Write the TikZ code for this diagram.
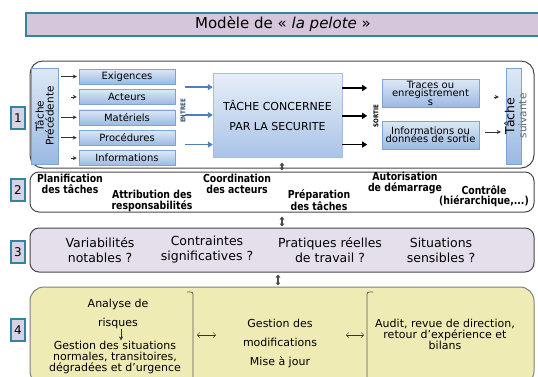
\documentclass[tikz,border=0pt]{standalone}
\usepackage{fontspec}
\setmainfont{DejaVu Sans}
\newfontfamily\narrowfont[FakeStretch=0.85]{DejaVu Sans}
\usetikzlibrary{positioning,arrows.meta,calc}
\definecolor{tealline}{HTML}{31859C}
\definecolor{titlefill}{HTML}{D6C6DC}
\definecolor{numfill}{HTML}{D9D1E6}
\definecolor{boxline}{HTML}{7EA2D4}
\definecolor{boxtop}{HTML}{DDE8F6}
\definecolor{boxbottom}{HTML}{9BB9E2}
\definecolor{arrowblue}{HTML}{4F7FBE}
\definecolor{askfill}{HTML}{E5DFEC}
\definecolor{planfill}{HTML}{EEEBB5}
\tikzset{
    title-bar/.style = {draw=tealline, line width=2pt, fill=titlefill, minimum width=514pt, minimum height=23pt, font=\fontsize{15}{15}\selectfont},
    num-box/.style = {draw=tealline, line width=1.6pt, fill=numfill, minimum width=14pt, minimum height=22pt, inner sep=0pt, font=\fontsize{12}{12}\selectfont},
    row-frame/.style = {draw=black!72, line width=1pt, rounded corners=9pt, minimum width=504pt, inner sep=0pt},
    blue-box/.style = {draw=boxline, top color=boxtop, bottom color=boxbottom, minimum width=96pt, minimum height=15pt, inner sep=0pt, font=\fontsize{10}{10}\selectfont},
    out-box/.style = {blue-box, minimum width=97pt, minimum height=28pt, align=center, font=\fontsize{10}{8.5}\selectfont},
    side-box/.style = {draw=boxline, top color=boxtop, bottom color=boxbottom, minimum height=96pt, inner sep=0pt},
    side-text/.style = {rotate=90, align=center, inner sep=0pt},
    center-box/.style = {draw=boxline!70, top color=boxtop!70!white, bottom color=boxbottom!85!white, minimum width=129pt, minimum height=84pt, align=center, font=\fontsize{11}{20}\selectfont},
    tag-text/.style = {rotate=90, inner sep=0pt, font=\narrowfont\bfseries\fontsize{6.5}{6.5}\selectfont},
    plan-text/.style = {align=center, inner sep=0pt, font=\narrowfont\bfseries\fontsize{11}{10.5}\selectfont},
    ask-text/.style = {align=center, inner sep=0pt, font=\fontsize{12.5}{15}\selectfont},
    manage-text/.style = {align=center, inner sep=0pt, font=\fontsize{11}{11}\selectfont},
    in-arrow/.style = {draw=arrowblue, line width=1.4pt, -{Triangle[length=5pt,width=6pt]}},
    out-arrow/.style = {draw=black, line width=1.8pt, -{Triangle[length=5pt,width=6pt]}},
    feed-arrow/.style = {draw=black!80, -{Stealth[length=4pt,width=4pt]}},
    link-arrow/.style = {draw=black!70, line width=1.2pt, {Triangle[length=3pt,width=4.5pt]}-{Triangle[length=3pt,width=4.5pt]}},
    pair-arrow/.style = {draw=black!80, line width=0.5pt, {Straight Barb[length=2.5pt]}-{Straight Barb[length=2.5pt]}},
    sep-line/.style = {draw=black!65, line width=0.8pt, rounded corners=2pt},
}
\begin{document}
\begin{tikzpicture}[x=1pt, y=-1pt]
\useasboundingbox (0,0) rectangle (538,376);
\clip (0,0) rectangle (538,376);
\node[title-bar] (title) at (283,24) {Modèle de « \textit{la pelote} »};

\node[row-frame, minimum height=107pt, rounded corners=13pt] (row1) at (282,114.5) {};
\node[row-frame, minimum height=40pt] (row2) at (282,192) {};
\node[row-frame, minimum height=44pt, fill=askfill] (row3) at (282,250) {};
\node[row-frame, minimum height=98pt, fill=planfill, draw=black!50, rounded corners=14pt] (row4) at (282,336) {};
\foreach \n/\y in {1/118, 2/190, 3/252, 4/330}
    \node[num-box] (num\n) at (18,\y) {\n};

\node[side-box, minimum width=27pt] (tp) at (44.5,116) {};
\node[side-text, font=\fontsize{10.5}{10}\selectfont] (tp-text) at (tp) {Tâche\\Précédente};
\node[blue-box] (exig) at (127,76.5) {Exigences};
\node[blue-box, below=5pt of exig] (act) {Acteurs};
\node[blue-box, below=5pt of act] (mat) {Matériels};
\node[blue-box, below=5pt of mat] (proc) {Procédures};
\node[blue-box, below=5pt of proc] (info) {Informations};
\foreach \b/\w/\s in {exig/0.6pt/3pt, act/0.5pt/13pt, mat/1.1pt/3pt, proc/1.5pt/3pt, info/0.5pt/13pt}
    \draw[feed-arrow, line width=\w] ([xshift=\s]tp.east |- \b.west) -- ([xshift=-2pt]\b.west);

\node[tag-text, text=arrowblue!60!black] (entree) at (183,111) {ENTREE};
\node[center-box] (task) at (277.5,115) {TÂCHE CONCERNEE\\PAR LA SECURITE};
\foreach \f in {0.17,0.5,0.85}
    \draw[in-arrow] ($(task.north west)!\f!(task.south west)+(-28,0)$) -- ($(task.north west)!\f!(task.south west)$);
\foreach \f in {0.18,0.51,0.85}
    \draw[out-arrow] ($(task.north east)!\f!(task.south east)$) -- ++(25,0);
\node[tag-text] (sortie) at (376,116) {SORTIE};
\node[out-box] (traces) at (430.5,93) {Traces ou\\enregistrement\\s};
\node[out-box] (outinfo) at (430.5,135) {Informations ou\\données de sortie};
\node[side-box, minimum width=15pt] (ts) at (513.5,116) {};
\node[side-text] (ts-text) at ([xshift=2pt]ts.center) {{\fontsize{12.5}{12}\selectfont Tâche}\\{\fontsize{10.5}{10}\selectfont\color{black!60}suivante}};
\draw[feed-arrow, line width=0.6pt] ([xshift=15pt,yshift=-4pt]traces.east) -- ([xshift=-7pt,yshift=-4pt]ts.west |- traces.east);
\draw[feed-arrow, line width=0.6pt] ([xshift=6pt,yshift=3pt]outinfo.east) -- ([xshift=-5pt,yshift=3pt]ts.west |- outinfo.east);

\node[plan-text] (plan) at (70,184) {Planification\\des tâches};
\node[plan-text] (assign) at (152,201) {Attribution des\\responsabilités};
\node[plan-text] (coord) at (237,184) {Coordination\\des acteurs};
\node[plan-text] (prep) at (319,200) {Préparation\\des tâches};
\node[plan-text] (start) at (405,183) {Autorisation\\de démarrage};
\node[plan-text] (check) at (484,196) {Contrôle\\(hiérarchique,...)};

\node[ask-text] (vary) at (100,250) {Variabilités\\notables ?};
\node[ask-text] (limit) at (207,250) {Contraintes\\significatives ?};
\node[ask-text] (real) at (330,250) {Pratiques réelles\\de travail ?};
\node[ask-text] (sensit) at (441,250) {Situations\\sensibles ?};

\node[manage-text, font=\fontsize{11}{19}\selectfont] (risk) at (118,313.5) {Analyse de\\risques};
\node[manage-text] (situ) at (115,357) {Gestion des situations\\normales, transitoires,\\dégradées et d'urgence};
\draw[feed-arrow, line width=0.5pt] ([xshift=3pt]risk.south) -- ([xshift=6pt]situ.north);
\node[manage-text, font=\fontsize{11}{19}\selectfont] (modif) at (280,343) {Gestion des\\modifications\\Mise à jour};
\node[manage-text] (audit) at (445,334) {Audit, revue de direction,\\retour d'expérience et\\bilans};
\coordinate (sep-left) at (193,292);
\coordinate (sep-right) at (367,292);
\draw[sep-line] ([xshift=-6pt]sep-left) -- (sep-left) -- ++(0,100);
\draw[sep-line] ([xshift=6pt]sep-right) -- (sep-right) -- ++(0,100);
\draw[pair-arrow] ($(sep-left)+(4,43)$) -- ++(19,0);
\draw[pair-arrow] ($(sep-right)+(-21,43)$) -- ++(18,0);

\draw[link-arrow] ([yshift=6pt]row1.south) -- ([yshift=1pt]row2.north);
\draw[link-arrow] ([yshift=-4pt]row2.south) -- ([yshift=1pt]row3.north);
\draw[link-arrow] ([xshift=-4pt,yshift=-2pt]row3.south) -- ([xshift=-4pt,yshift=1pt]row4.north);
\end{tikzpicture}
\end{document}
